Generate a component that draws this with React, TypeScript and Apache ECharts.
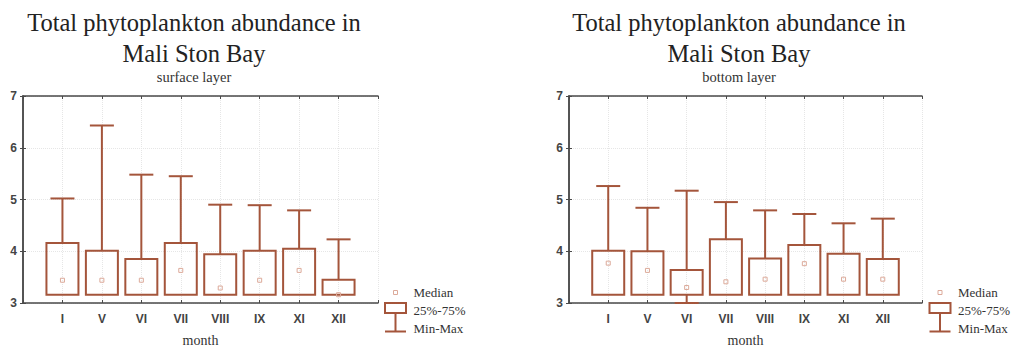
import React, { useEffect, useRef } from "react";
import * as echarts from "echarts";

const months = ["I", "V", "VI", "VII", "VIII", "IX", "XI", "XII"];
const yTicks = [3, 4, 5, 6, 7];

const surfaceMin = [3.16, 3.16, 3.16, 3.16, 3.16, 3.16, 3.16, 3.16];
const surfaceQ1 = [3.16, 3.16, 3.16, 3.16, 3.16, 3.16, 3.16, 3.16];
const surfaceMedian = [3.44, 3.44, 3.44, 3.63, 3.29, 3.44, 3.63, 3.16];
const surfaceQ3 = [4.16, 4.01, 3.85, 4.16, 3.94, 4.01, 4.05, 3.45];
const surfaceMax = [5.02, 6.43, 5.48, 5.45, 4.9, 4.89, 4.79, 4.23];

const bottomMin = [3.16, 3.16, 3.0, 3.16, 3.16, 3.16, 3.16, 3.16];
const bottomQ1 = [3.16, 3.16, 3.16, 3.16, 3.16, 3.16, 3.16, 3.16];
const bottomMedian = [3.77, 3.63, 3.3, 3.41, 3.46, 3.76, 3.46, 3.46];
const bottomQ3 = [4.01, 4.0, 3.64, 4.23, 3.86, 4.12, 3.95, 3.85];
const bottomMax = [5.26, 4.84, 5.17, 4.95, 4.79, 4.72, 4.54, 4.63];

const titleText = "Total phytoplankton abundance in\nMali Ston Bay";
const subtitles = ["surface layer", "bottom layer"];
const legendLabels = ["Median", "25%-75%", "Min-Max"];
const xName = "month";

const BROWN = "#a4553b";
const MEDIAN = "#dcaa9a";
const FRAME = "#4a4a4a";
const SERIF = "'Liberation Serif', 'Times New Roman', serif";
const SANS = "'Liberation Sans', Arial, sans-serif";

function build(min: number[], q1: number[], med: number[], q3: number[], max: number[]) {
  return months.map((_, i) => [i + 1, min[i], q1[i], med[i], q3[i], max[i]]);
}

const renderBox = (params: any, api: any) => {
  const x = api.value(0);
  const vMin = api.value(1);
  const vQ1 = api.value(2);
  const vMed = api.value(3);
  const vQ3 = api.value(4);
  const vMax = api.value(5);
  const pQ1 = api.coord([x, vQ1]);
  const pQ3 = api.coord([x, vQ3]);
  const pMax = api.coord([x, vMax]);
  const pMin = api.coord([x, vMin]);
  const pMed = api.coord([x, vMed]);
  const bw = 32;
  const cw = 24;
  const cx = pQ1[0];
  const lineStyle = { stroke: BROWN, lineWidth: 2, fill: "none" };
  const children: any[] = [
    {
      type: "line",
      shape: { x1: cx, y1: pQ3[1], x2: cx, y2: pMax[1] },
      style: lineStyle,
    },
    {
      type: "line",
      shape: { x1: cx - cw / 2, y1: pMax[1], x2: cx + cw / 2, y2: pMax[1] },
      style: lineStyle,
    },
    {
      type: "rect",
      shape: { x: cx - bw / 2, y: pQ3[1], width: bw, height: pQ1[1] - pQ3[1] },
      style: { stroke: BROWN, lineWidth: 2, fill: "rgba(255,255,255,0)" },
    },
    {
      type: "rect",
      shape: { x: cx - 2, y: pMed[1] - 2, width: 4, height: 4 },
      style: { stroke: MEDIAN, lineWidth: 1, fill: "none" },
    },
  ];
  if (vMin < vQ1) {
    children.push(
      {
        type: "line",
        shape: { x1: cx, y1: pQ1[1], x2: cx, y2: pMin[1] },
        style: lineStyle,
      },
      {
        type: "line",
        shape: { x1: cx - cw / 2, y1: pMin[1], x2: cx + cw / 2, y2: pMin[1] },
        style: lineStyle,
      }
    );
  }
  return { type: "group", children };
};

function legendGraphics(ox: number) {
  const textStyle = (t: string, y: number) => ({
    type: "text",
    left: ox + 18,
    top: y - 7,
    style: { text: t, fontSize: 13, fontFamily: SERIF, fill: "#333" },
  });
  return [
    {
      type: "rect",
      shape: { x: ox - 2, y: 290.5, width: 4, height: 4 },
      style: { stroke: MEDIAN, lineWidth: 1, fill: "none" },
    },
    {
      type: "rect",
      shape: { x: ox - 10.5, y: 303, width: 21, height: 10 },
      style: { stroke: BROWN, lineWidth: 2, fill: "none" },
    },
    {
      type: "line",
      shape: { x1: ox, y1: 313, x2: ox, y2: 331.5 },
      style: { stroke: BROWN, lineWidth: 2 },
    },
    {
      type: "line",
      shape: { x1: ox - 10.5, y1: 331.5, x2: ox + 10.5, y2: 331.5 },
      style: { stroke: BROWN, lineWidth: 2 },
    },
    textStyle(legendLabels[0], 293),
    textStyle(legendLabels[1], 311),
    textStyle(legendLabels[2], 329),
  ];
}

function xAxes(gridIndex: number) {
  return [
    {
      type: "value",
      gridIndex,
      min: 0,
      max: 9,
      interval: 1,
      position: "bottom",
      name: xName,
      nameLocation: "middle",
      nameGap: 30,
      nameTextStyle: { fontFamily: SERIF, fontSize: 14, color: "#333" },
      axisLine: { show: true, lineStyle: { color: FRAME, width: 1.5 } },
      axisTick: { show: true, inside: true, length: 3, lineStyle: { color: FRAME } },
      axisLabel: {
        margin: 10,
        fontFamily: SANS,
        fontWeight: "bold",
        fontSize: 12,
        color: "#444",
        formatter: (v: number) => months[v - 1] ?? "",
      },
      splitLine: { show: true, lineStyle: { color: "#e6e6e6", type: "dotted", width: 1 } },
    },
    {
      type: "value",
      gridIndex,
      min: 0,
      max: 9,
      interval: 1,
      position: "top",
      axisLine: { show: true, lineStyle: { color: FRAME, width: 1.5 } },
      axisTick: { show: true, inside: true, length: 3, lineStyle: { color: FRAME } },
      axisLabel: { show: false },
      splitLine: { show: false },
    },
  ];
}

function yAxes(gridIndex: number) {
  return [
    {
      type: "value",
      gridIndex,
      min: yTicks[0],
      max: yTicks[yTicks.length - 1],
      interval: 1,
      position: "left",
      axisLine: { show: true, lineStyle: { color: FRAME, width: 1.5 } },
      axisTick: { show: true, inside: true, length: 3, lineStyle: { color: FRAME } },
      axisLabel: {
        margin: 6,
        fontFamily: SANS,
        fontWeight: "bold",
        fontSize: 12,
        color: "#444",
      },
      splitLine: { show: true, lineStyle: { color: "#e6e6e6", type: "dotted", width: 1 } },
    },
    {
      type: "value",
      gridIndex,
      min: yTicks[0],
      max: yTicks[yTicks.length - 1],
      interval: 1,
      position: "right",
      axisLine: { show: true, lineStyle: { color: FRAME, width: 1.5 } },
      axisTick: { show: true, inside: true, length: 3, lineStyle: { color: FRAME } },
      axisLabel: { show: false },
      splitLine: { show: false },
    },
  ];
}

export default function App() {
  const ref = useRef<HTMLDivElement>(null);
  useEffect(() => {
    if (!ref.current) return;
    const chart = echarts.init(ref.current, null, { renderer: "svg" });
    const titleBase = {
      text: titleText,
      top: 2,
      textAlign: "center",
      itemGap: 0,
      textStyle: {
        fontFamily: SERIF,
        fontSize: 24.5,
        lineHeight: 31,
        fontWeight: "normal",
        color: "#222",
      },
      subtextStyle: { fontFamily: SERIF, fontSize: 14.5, color: "#333" },
    };
    chart.setOption({
      animation: false,
      backgroundColor: "#fff",
      title: [
        { ...titleBase, left: 189, subtext: subtitles[0] },
        { ...titleBase, left: 734, subtext: subtitles[1] },
      ],
      grid: [
        { left: 23, top: 96, width: 355, height: 207, outerBoundsMode: "none", containLabel: false },
        { left: 569, top: 96, width: 353, height: 207, outerBoundsMode: "none", containLabel: false },
      ],
      xAxis: [...xAxes(0), ...xAxes(1)],
      yAxis: [...yAxes(0), ...yAxes(1)],
      series: [
        {
          type: "custom",
          xAxisIndex: 0,
          yAxisIndex: 0,
          renderItem: renderBox,
          encode: { x: 0, y: [1, 2, 3, 4, 5] },
          data: build(surfaceMin, surfaceQ1, surfaceMedian, surfaceQ3, surfaceMax),
        },
        {
          type: "custom",
          xAxisIndex: 2,
          yAxisIndex: 2,
          renderItem: renderBox,
          encode: { x: 0, y: [1, 2, 3, 4, 5] },
          data: build(bottomMin, bottomQ1, bottomMedian, bottomQ3, bottomMax),
        },
      ],
      graphic: [...legendGraphics(395.5), ...legendGraphics(940)],
    });
    return () => chart.dispose();
  }, []);
  return (
    <div
      ref={ref}
      style={{ position: "fixed", left: 0, top: 0, width: 1018, height: 346 }}
    />
  );
}
